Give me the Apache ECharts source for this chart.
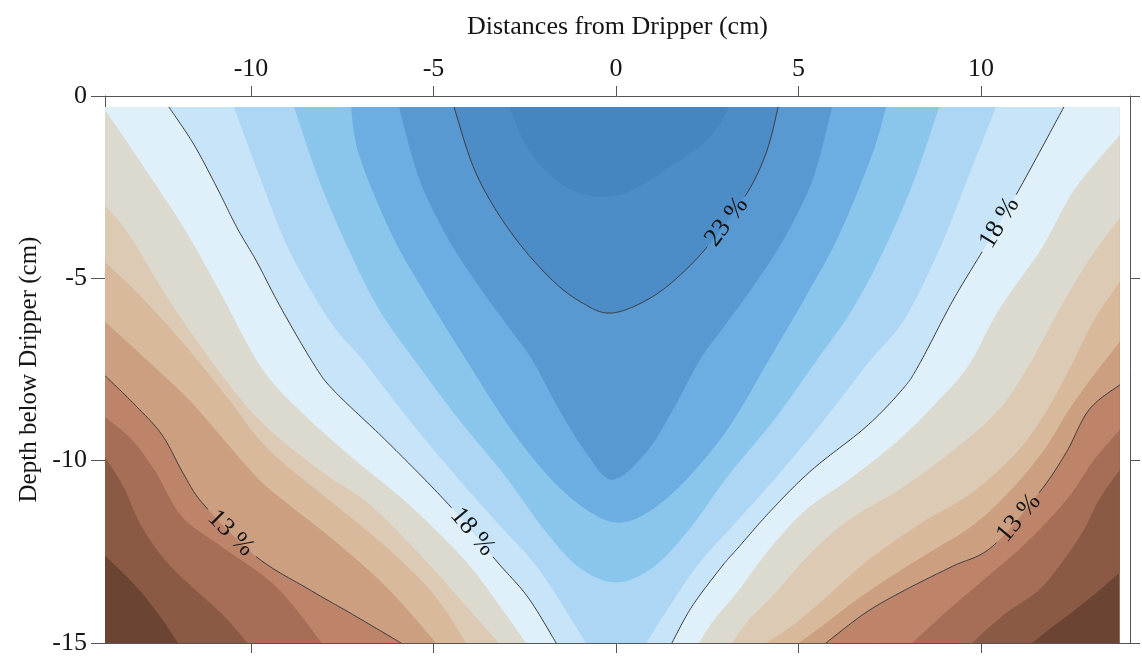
<!DOCTYPE html>
<html>
<head>
<meta charset="utf-8">
<script src="https://cdn.jsdelivr.net/npm/echarts@6/dist/echarts.min.js"></script>
<style>
  html, body { margin: 0; padding: 0; background: #ffffff; }
  #chart { width: 1142px; height: 657px; }
</style>
</head>
<body>
<div id="chart"></div>
<script>
// Axis ticks and extents (cm)
const xTicks = [-10, -5, 0, 5, 10];
const yTicks = [0, -5, -10, -15];
const xAxisRange = [-14, 14.08];
const yAxisRange = [-15, 0];

// Measured field: horizontal distance and depth covered by the soil-moisture map
const fieldX = [-14, 13.8];
const fieldY = [-15, -0.3];

// Moisture levels (%) separating the colour bands; colour 0 is below the first level
const levels = [10, 11, 12, 13, 14, 15, 16, 17, 18, 19, 20, 21, 22, 23, 24];
const bandColors = [
  '#6b4434', '#8b5a45', '#a66e57', '#bd846a', '#cb9f80', '#d8b99c', '#dccab4', '#dcd9ce',
  '#dff0fa', '#c8e4f8', '#acd6f4', '#8ac6ec', '#6caee2', '#5899d2', '#4c8cc7', '#4585c0'
];

// Contour branches as [distance, depth] in cm, each running from top/side edge to the bottom
const c10Left  = [[-14, -12.6], [-13.1, -13.5], [-12.4, -14.4], [-12.0, -15]];
const c10Right = [[13.8, -13.07], [13.1, -13.67], [12.41, -14.22], [11.86, -14.63], [11.4, -15]];
const c11Left  = [[-14, -9.9], [-13.5, -10.7], [-13.0, -11.8], [-12.2, -12.9], [-10.8, -14.2], [-10.1, -15]];
const c11Right = [[13.8, -10.25], [13.23, -11.07], [12.82, -11.89], [12.27, -12.71], [11.59, -13.54], [10.63, -14.22], [9.75, -15]];
const c12Left  = [[-14, -8.8], [-13.26, -9.43], [-12.6, -10.33], [-11.89, -11.54], [-10.8, -12.36], [-9.32, -13.45], [-8.06, -15]];
const c12Right = [[13.8, -9.15], [13.1, -9.97], [12.49, -10.88], [11.86, -11.62], [11.12, -12.36], [10.08, -13.26], [9.12, -14.08], [8.11, -15]];
const c13Left  = [[-14, -7.67], [-13.21, -8.44], [-12.44, -9.29], [-11.84, -10.38], [-11.29, -11.21], [-9.86, -12.63], [-8.41, -13.53], [-7.21, -14.22], [-5.89, -15]];
const c13Right = [[13.8, -7.92], [12.96, -8.6], [12.33, -9.78], [11.59, -10.88], [10.3, -12.36], [9.21, -12.9], [7.95, -13.53], [6.85, -14.16], [5.75, -15]];
const c14Left  = [[-14, -6.19], [-12.8, -7.29], [-11.7, -8.33], [-10.74, -9.43], [-9.78, -10.52], [-8.96, -11.21], [-7.59, -12.3], [-6.22, -13.54], [-4.93, -15]];
const c14Right = [[13.8, -6.74], [13.1, -7.64], [12.41, -8.6], [11.73, -9.7], [10.82, -10.8], [9.81, -11.75], [8.71, -12.44], [7.62, -13.12], [6.6, -13.81], [5.7, -14.49], [5.01, -15]];
const c15Left  = [[-14, -4.55], [-12.93, -5.59], [-11.7, -6.96], [-10.6, -8.33], [-9.51, -9.7], [-7.7, -11.21], [-6.22, -12.44], [-4.99, -13.67], [-4.11, -15]];
const c15Right = [[13.8, -5.1], [13.1, -6.14], [12.41, -7.51], [11.73, -8.74], [10.91, -9.84], [9.67, -10.93], [8.3, -11.75], [6.93, -12.71], [5.84, -13.67], [4.88, -14.49], [4.11, -15]];
const c16Left  = [[-14, -2.99], [-13.34, -3.81], [-12.25, -5.59], [-11.01, -7.37], [-9.78, -8.88], [-8.14, -10.25], [-6.74, -11.21], [-5.12, -12.85], [-4.03, -14.08], [-3.21, -15]];
const c16Right = [[13.8, -3.34], [12.96, -4.49], [12.14, -5.86], [11.32, -7.37], [10.49, -8.6], [9.26, -9.7], [7.75, -10.8], [6.38, -11.62], [5.29, -12.58], [4.33, -13.67], [3.64, -14.36], [3.18, -15]];
const c17Left  = [[-14, -0.38], [-13.07, -1.75], [-11.84, -3.62], [-10.88, -5.32], [-9.73, -7.43], [-8.69, -8.6], [-7.32, -9.84], [-5.67, -11.21], [-4.16, -12.71], [-3.21, -13.95], [-2.47, -15]];
const c17Right = [[13.8, -1.07], [12.55, -2.58], [11.67, -4.16], [10.49, -5.86], [9.67, -7.37], [8.85, -8.33], [7.75, -9.43], [6.38, -10.52], [5.21, -11.34], [4.19, -12.44], [3.37, -13.54], [2.69, -14.36], [2.27, -15]];
const c18Left  = [[-12.25, -0.3], [-11.56, -1.34], [-10.93, -2.52], [-10.38, -3.62], [-9.84, -4.55], [-9.18, -5.81], [-8.27, -7.37], [-7.7, -8.11], [-6.27, -9.48], [-4.58, -11.21], [-3.26, -12.77], [-2.41, -13.75], [-1.64, -15]];
const c18Right = [[12.27, -0.3], [10.96, -2.71], [10.03, -4.27], [9.21, -5.64], [8.3, -7.37], [7.84, -8.05], [6.85, -9.07], [5.37, -10.25], [4.27, -11.34], [3.37, -12.36], [2.9, -12.9], [2.08, -14.0], [1.53, -15]];
const c19Left  = [[-10.47, -0.3], [-9.73, -2.3], [-8.96, -4.22], [-7.86, -6.14], [-6.9, -7.29], [-5.67, -8.88], [-4.3, -10.52], [-3.21, -11.75], [-2.11, -12.99], [-0.82, -15]];
const c19Right = [[10.41, -0.3], [9.62, -2.3], [8.85, -4.22], [7.89, -6.14], [6.93, -7.29], [5.7, -8.88], [4.33, -10.52], [3.23, -11.75], [2.14, -12.99], [0.82, -15]];

// Wettest levels close below the dripper: single curves from top edge back to top edge
const c20Loop = [[-8.82, -0.3], [-8.14, -2.3], [-7.32, -4.22], [-6.49, -5.86], [-5.53, -7.23], [-4.3, -8.88], [-3.07, -10.38], [-1.97, -11.89], [-1.01, -12.93], [0, -13.34], [1.01, -12.93], [2.0, -11.89], [3.1, -10.38], [4.33, -8.88], [5.51, -7.23], [6.47, -5.86], [7.34, -4.22], [8.17, -2.3], [8.85, -0.3]];
const c21Loop = [[-7.26, -0.3], [-7.04, -1.62], [-6.14, -3.81], [-5.21, -5.45], [-4.11, -7.23], [-2.93, -9.07], [-1.84, -10.44], [-0.82, -11.34], [0.08, -11.7], [0.99, -11.34], [2.0, -10.44], [3.1, -9.07], [4.19, -7.23], [5.23, -5.45], [6.11, -3.81], [7.01, -1.62], [7.4, -0.3]];
const c22Loop = [[-5.95, -0.3], [-5.4, -2.25], [-4.66, -3.81], [-3.84, -5.1], [-2.93, -6.36], [-2.3, -7.23], [-1.56, -8.6], [-0.82, -9.78], [-0.11, -10.52], [0.82, -9.78], [1.56, -8.6], [2.3, -7.23], [2.93, -6.36], [3.84, -5.1], [4.66, -3.81], [5.4, -2.25], [5.92, -0.3]];
const c23Loop = [[-4.44, -0.3], [-3.84, -2.11], [-2.93, -3.67], [-1.84, -4.96], [-0.93, -5.67], [-0.11, -5.95], [0.99, -5.51], [2.0, -4.68], [2.82, -3.73], [3.64, -2.58], [4.14, -1.48], [4.44, -0.3]];
const c24Loop = [[-2.93, -0.3], [-2.3, -1.62], [-1.21, -2.58], [0.08, -2.71], [1.45, -1.97], [2.55, -1.15], [3.1, -0.3]];

const openContours = {
  10: [c10Left, c10Right], 11: [c11Left, c11Right], 12: [c12Left, c12Right],
  13: [c13Left, c13Right], 14: [c14Left, c14Right], 15: [c15Left, c15Right],
  16: [c16Left, c16Right], 17: [c17Left, c17Right], 18: [c18Left, c18Right],
  19: [c19Left, c19Right]
};
const closedContours = { 20: c20Loop, 21: c21Loop, 22: c22Loop, 23: c23Loop, 24: c24Loop };

// Labelled isolines and where along them the label sits
const contourLabels = [
  { level: 13, line: c13Left, at: [-10.6, -12.03] },
  { level: 13, line: c13Right, at: [11.04, -11.53] },
  { level: 18, line: c18Left, at: [-3.92, -11.97] },
  { level: 18, line: c18Right, at: [10.52, -3.48] },
  { level: 23, line: c23Loop, at: [3.04, -3.48] }
];

const SERIF = '"Liberation Serif", "Times New Roman", serif';
const LABEL_SIZE = 26;

// Catmull-Rom smoothing of a pixel polyline
function smoothLine(pts, steps) {
  steps = steps || 14;
  if (pts.length < 3) return pts.slice();
  const out = [];
  for (let i = 0; i < pts.length - 1; i++) {
    const p0 = pts[i - 1] || pts[i];
    const p1 = pts[i];
    const p2 = pts[i + 1];
    const p3 = pts[i + 2] || pts[i + 1];
    for (let s = 0; s < steps; s++) {
      const t = s / steps, t2 = t * t, t3 = t2 * t;
      const f = (a, b, c, d) => 0.5 * (2 * b + (-a + c) * t + (2 * a - 5 * b + 4 * c - d) * t2 + (-a + 3 * b - 3 * c + d) * t3);
      out.push([f(p0[0], p1[0], p2[0], p3[0]), f(p0[1], p1[1], p2[1], p3[1])]);
    }
  }
  out.push(pts[pts.length - 1]);
  return out;
}

function fillPolygon(layer, api) {
  const toPx = p => api.coord(p);
  if (layer === 0) {
    return [[fieldX[0], fieldY[1]], [fieldX[1], fieldY[1]], [fieldX[1], fieldY[0]], [fieldX[0], fieldY[0]]].map(toPx);
  }
  const level = levels[layer - 1];
  if (closedContours[level]) {
    return smoothLine(closedContours[level].map(toPx));
  }
  const [left, right] = openContours[level];
  const pts = [];
  if (left[0][0] <= fieldX[0] + 1e-6) pts.push(toPx([fieldX[0], fieldY[1]]));
  pts.push(...smoothLine(left.map(toPx)));
  pts.push(...smoothLine(right.slice().reverse().map(toPx)));
  if (right[0][0] >= fieldX[1] - 1e-6) pts.push(toPx([fieldX[1], fieldY[1]]));
  return pts;
}

function renderFill(params, api) {
  return {
    type: 'polygon',
    shape: { points: fillPolygon(params.dataIndex, api) },
    style: { fill: bandColors[params.dataIndex], stroke: null }
  };
}

function renderIsoline(params, api) {
  const item = contourLabels[params.dataIndex];
  const pts = smoothLine(item.line.map(p => api.coord(p)), 20);
  const anchor = api.coord(item.at);
  let best = 0, bestD = Infinity;
  pts.forEach((p, i) => {
    const d = Math.hypot(p[0] - anchor[0], p[1] - anchor[1]);
    if (d < bestD) { bestD = d; best = i; }
  });
  const a = pts[Math.max(0, best - 3)];
  const b = pts[Math.min(pts.length - 1, best + 3)];
  let angle = Math.atan2(-(b[1] - a[1]), b[0] - a[0]);
  if (angle > Math.PI / 2) angle -= Math.PI;
  if (angle < -Math.PI / 2) angle += Math.PI;
  const c = pts[best];
  const gap = LABEL_SIZE * 1.2;
  const runs = [];
  let run = [];
  pts.forEach(p => {
    if (Math.hypot(p[0] - c[0], p[1] - c[1]) < gap) {
      if (run.length > 1) runs.push(run);
      run = [];
    } else {
      run.push(p);
    }
  });
  if (run.length > 1) runs.push(run);
  const children = runs.map(r => ({
    type: 'polyline',
    shape: { points: r },
    style: { stroke: '#3c3c3c', lineWidth: 1, fill: null }
  }));
  children.push({
    type: 'text',
    x: c[0],
    y: c[1],
    rotation: angle,
    style: {
      text: item.level + ' %',
      fill: '#151515',
      fontSize: LABEL_SIZE,
      fontFamily: SERIF,
      align: 'center',
      verticalAlign: 'middle'
    }
  });
  return { type: 'group', children };
}

const axisLineStyle = { color: '#555555', width: 1 };
const tickLabelStyle = { fontSize: LABEL_SIZE, fontFamily: SERIF, color: '#151515' };

const chart = echarts.init(document.getElementById('chart'), null, { renderer: 'canvas' });
chart.setOption({
  backgroundColor: '#ffffff',
  animation: false,
  grid: { left: 105, right: 12, top: 96, bottom: 14, containLabel: false, outerBoundsMode: 'none' },
  xAxis: [
    {
      type: 'value', position: 'top', min: xAxisRange[0], max: xAxisRange[1],
      name: 'Distances from Dripper (cm)', nameLocation: 'middle', nameGap: 56,
      nameTextStyle: { fontSize: LABEL_SIZE, fontFamily: SERIF, color: '#151515' },
      axisLine: { show: true, onZero: false, lineStyle: axisLineStyle },
      axisTick: { show: true, customValues: xTicks, length: 10, lineStyle: axisLineStyle },
      axisLabel: Object.assign({ customValues: xTicks, margin: 14, showMinLabel: true, showMaxLabel: true }, tickLabelStyle),
      splitLine: { show: false }
    },
    {
      type: 'value', position: 'bottom', min: xAxisRange[0], max: xAxisRange[1],
      axisLine: { show: true, onZero: false, lineStyle: axisLineStyle },
      axisTick: { show: true, customValues: xTicks, length: 10, lineStyle: axisLineStyle },
      axisLabel: { show: false },
      splitLine: { show: false }
    }
  ],
  yAxis: [
    {
      type: 'value', position: 'left', min: yAxisRange[0], max: yAxisRange[1],
      name: 'Depth below Dripper (cm)', nameLocation: 'middle', nameGap: 62, nameRotate: 90,
      nameTextStyle: { fontSize: 25, fontFamily: SERIF, color: '#151515' },
      axisLine: { show: true, onZero: false, lineStyle: axisLineStyle },
      axisTick: { show: true, customValues: yTicks, length: 14, lineStyle: axisLineStyle },
      axisLabel: Object.assign({ customValues: yTicks, margin: 18, showMinLabel: true, showMaxLabel: true }, tickLabelStyle),
      splitLine: { show: false }
    },
    {
      type: 'value', position: 'right', min: yAxisRange[0], max: yAxisRange[1],
      axisLine: { show: true, onZero: false, lineStyle: axisLineStyle },
      axisTick: { show: true, customValues: yTicks, length: 10, lineStyle: axisLineStyle },
      axisLabel: { show: false },
      splitLine: { show: false }
    }
  ],
  series: [
    {
      type: 'custom',
      name: 'moisture bands',
      xAxisIndex: 0, yAxisIndex: 0,
      renderItem: renderFill,
      data: bandColors.map(() => [0, -7.5]),
      clip: true,
      silent: true,
      z: 1
    },
    {
      type: 'custom',
      name: 'isolines',
      xAxisIndex: 0, yAxisIndex: 0,
      renderItem: renderIsoline,
      data: contourLabels.map(() => [0, -7.5]),
      clip: true,
      silent: true,
      z: 2
    }
  ]
});
</script>
</body>
</html>
